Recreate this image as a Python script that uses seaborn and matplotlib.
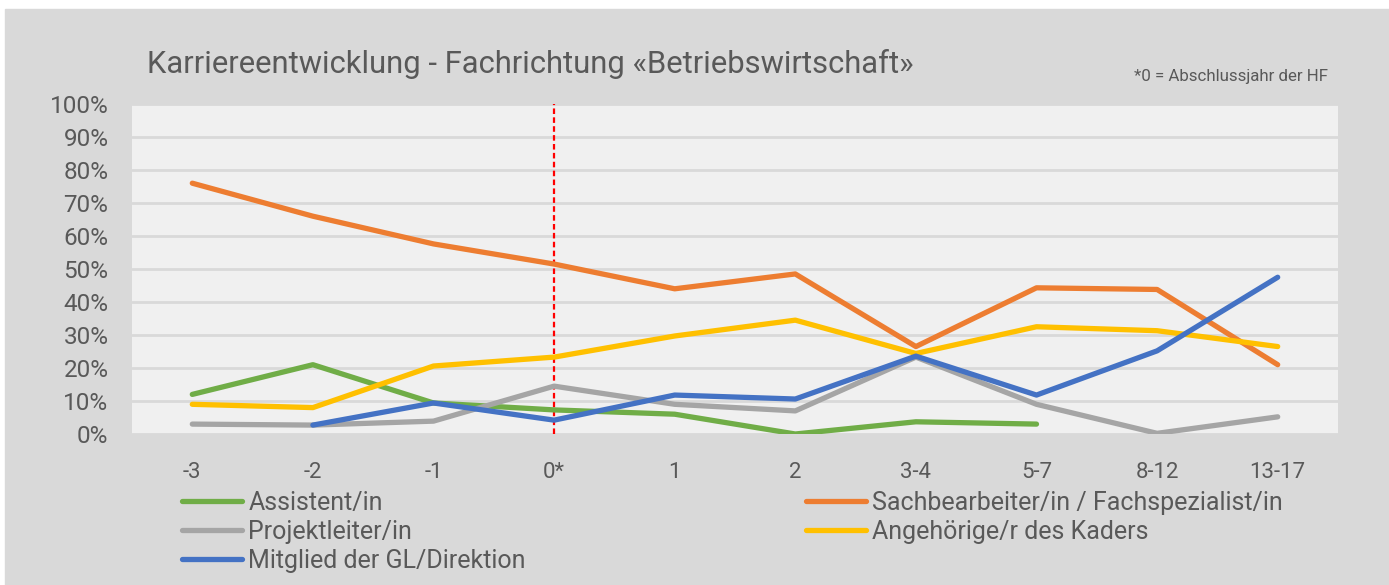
import numpy as np
import pandas as pd
import seaborn as sns
import matplotlib.pyplot as plt
from matplotlib.lines import Line2D
from matplotlib.patches import Rectangle
from matplotlib.ticker import PercentFormatter

# Data (in %)
years = ["-3", "-2", "-1", "0*", "1", "2", "3-4", "5-7", "8-12", "13-17"]
assistent = [12, 21, 9.4, 7.3, 6, 0, 3.7, 3, np.nan, np.nan]
sachbearbeiter = [76, 66, 57.6, 51.5, 44, 48.5, 26.5, 44.3, 43.8, 21]
projektleiter = [3, 2.7, 3.9, 14.5, 9, 7, 23.3, 9, 0.2, 5.2]
kader = [9, 8, 20.6, 23.3, 29.7, 34.5, 24.4, 32.5, 31.3, 26.5]
direktion = [np.nan, 2.7, 9.4, 4.2, 11.8, 10.6, 23.6, 11.8, 25.2, 47.5]

series_names = ["Assistent/in", "Sachbearbeiter/in / Fachspezialist/in",
                "Projektleiter/in", "Angehörige/r des Kaders",
                "Mitglied der GL/Direktion"]
series_values = [assistent, sachbearbeiter, projektleiter, kader, direktion]
colors = ["#70AD47", "#ED7D31", "#A5A5A5", "#FFC000", "#4472C4"]

rows = []
for name, vals in zip(series_names, series_values):
    for yr, v in zip(years, vals):
        rows.append({"Jahr": yr, "Anteil": v, "Position": name})
df = pd.DataFrame(rows)

sns.set_theme(style="white")
plt.rcParams['font.family'] = ['Roboto', 'DejaVu Sans']
text_color = "#595959"

fig = plt.figure(figsize=(13.89, 5.85), dpi=100, facecolor="white")
fig.patches.append(Rectangle((5 / 1389, 0), 1, (585 - 9) / 585,
                             transform=fig.transFigure, color="#D9D9D9", zorder=-10))
ax = fig.add_axes([132 / 1389, 151 / 585, 1206 / 1389, 330 / 585])
ax.set_facecolor("#F0F0F0")

sns.lineplot(data=df, x="Jahr", y="Anteil", hue="Position",
             hue_order=series_names, palette=colors, sort=False,
             linewidth=3.8, solid_capstyle="round", legend=False, ax=ax)

# Marker for graduation year
ax.axvline(years.index("0*"), color="#FF0000", linestyle=(0, (2.5, 1.5)),
           linewidth=1.6, zorder=1)

ax.set_ylim(0, 100)
ax.set_xlim(-0.5, len(years) - 0.5)
ax.set_yticks(range(0, 101, 10))
ax.yaxis.set_major_formatter(PercentFormatter(decimals=0))
ax.grid(axis="y", color="#D9D9D9", linewidth=2)
ax.set_axisbelow(True)
for spine in ax.spines.values():
    spine.set_visible(False)
ax.set_xlabel("")
ax.set_ylabel("")
ax.tick_params(axis="y", labelsize=17.5, colors=text_color, pad=17, length=0)
ax.tick_params(axis="x", labelsize=16, colors=text_color, pad=20, length=0)

fig.text(147 / 1389, 1 - 64 / 585,
         "Karriereentwicklung - Fachrichtung «Betriebswirtschaft»",
         fontsize=22.3, color=text_color, va="center", ha="left")
fig.text(1328 / 1389, 1 - 77 / 585, "*0 = Abschlussjahr der HF",
         fontsize=12.2, color=text_color, va="center", ha="right")

# Legend (row-major order like the original, so reorder for column filling)
handles = [Line2D([0], [0], color=c, linewidth=3.8, solid_capstyle="round", label=n)
           for n, c in zip(series_names, colors)]
order = [0, 2, 4, 1, 3]
fig.legend(handles=[handles[i] for i in order], ncol=2, frameon=False,
           loc="upper left", bbox_to_anchor=(182 / 1389, 1 - 491 / 585),
           fontsize=18, labelcolor=text_color, handlelength=2.4,
           handletextpad=0.25, columnspacing=11.2, labelspacing=0.2,
           borderaxespad=0, borderpad=0)

plt.savefig("out.png", dpi=100, facecolor=fig.get_facecolor())
